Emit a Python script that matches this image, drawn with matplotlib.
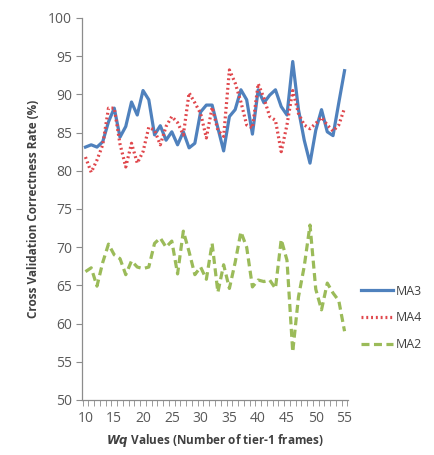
import numpy as np
import matplotlib.pyplot as plt

# Wq values (number of tier-1 frames)
wq = np.arange(10, 56)

ma3 = [83.1, 83.4, 83.1, 83.8, 86.4, 88.2, 84.4, 85.8, 89.0, 87.3,
       90.5, 89.3, 84.7, 85.9, 84.0, 85.1, 83.4, 85.1, 83.0, 83.6,
       87.7, 88.6, 88.6, 85.6, 82.6, 87.1, 88.0, 90.6, 89.3, 84.8,
       90.6, 88.9, 89.9, 90.6, 88.4, 87.3, 94.3, 88.0, 84.0, 81.0,
       85.3, 88.0, 85.1, 84.6, 88.9, 93.1]

ma4 = [81.8, 79.8, 81.4, 83.4, 88.2, 88.2, 83.5, 80.5, 83.6, 81.0,
       82.5, 85.7, 85.3, 83.4, 85.8, 87.1, 86.3, 84.7, 90.2, 88.9,
       87.5, 84.3, 88.3, 85.3, 84.5, 93.2, 91.5, 89.0, 86.0, 85.6,
       91.4, 89.5, 87.1, 86.6, 82.5, 86.0, 90.5, 87.5, 86.0, 85.5,
       86.2, 87.0, 86.0, 85.2, 86.0, 88.2]

ma2 = [66.8, 67.3, 64.9, 68.0, 70.4, 69.0, 68.5, 66.4, 68.2, 67.4,
       67.2, 67.4, 70.5, 71.2, 70.0, 70.8, 66.5, 72.1, 69.4, 66.4,
       67.4, 65.8, 70.5, 64.1, 67.7, 64.6, 68.0, 72.0, 70.0, 64.8,
       65.7, 65.5, 65.7, 64.6, 71.0, 68.3, 56.3, 63.5, 67.5, 72.9,
       64.5, 61.8, 65.3, 64.0, 63.0, 59.0]

plt.rcParams['font.family'] = ['Open Sans', 'DejaVu Sans']

fig = plt.figure(figsize=(4.35, 4.55), dpi=100)
ax = fig.add_axes([0.1885, 0.1209, 0.6115, 0.8396])

ax.plot(wq, ma3, color='#4F81BD', lw=2.3, label='MA3')
ax.plot(wq, ma4, color='#E0474C', lw=2.3, ls=(0, (0.6, 0.9)), label='MA4')
ax.plot(wq, ma2, color='#9BBB59', lw=2.3, ls=(0, (2.5, 1.4)), label='MA2')

ax.set_xlim(9.4, 55.6)
ax.set_ylim(50, 100)
ax.set_yticks(np.arange(50, 101, 5))
ax.set_xticks(np.arange(10, 56, 5))
ax.set_xticks(np.arange(9.5, 56, 1), minor=True)

for s in ['top', 'right']:
    ax.spines[s].set_visible(False)
for s in ['left', 'bottom']:
    ax.spines[s].set_color('#8C8C8C')
    ax.spines[s].set_linewidth(0.9)

ax.tick_params(axis='y', which='major', direction='out', length=4,
               color='#8C8C8C', labelcolor='#595959', labelsize=10, pad=3)
ax.tick_params(axis='x', which='major', length=0, labelcolor='#595959',
               labelsize=10, pad=8)
ax.tick_params(axis='x', which='minor', direction='out', length=4,
               color='#8C8C8C')

ax.set_ylabel('Cross Validation Correctness Rate (%)', fontsize=8.5,
              fontweight='bold', color='#404040', labelpad=6)
ax.set_xlabel(r'$\mathbfit{Wq}$ Values (Number of tier-1 frames)',
              fontsize=8.5, fontweight='bold', color='#404040', labelpad=4)

ax.legend(loc='center left', bbox_to_anchor=(1.0, 0.215), frameon=False,
          handlelength=2.6, labelspacing=1.1, fontsize=9,
          labelcolor='#404040', handletextpad=0.2, borderaxespad=0.6)

fig.savefig('out.png', dpi=100)
